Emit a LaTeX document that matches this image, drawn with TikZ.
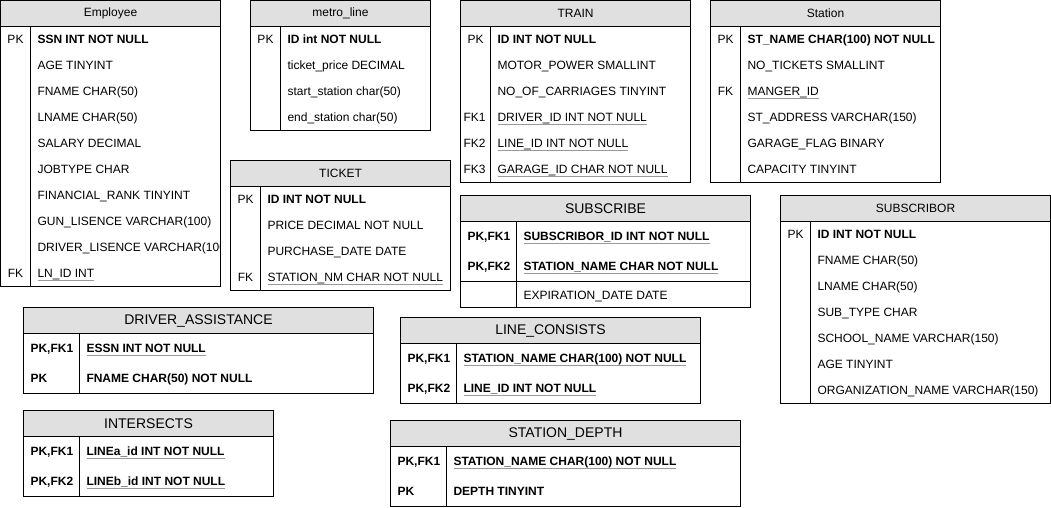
\documentclass[tikz,border=0pt]{standalone}
\usepackage{fontspec}
\setmainfont{Liberation Sans}
\definecolor{hdrgray}{HTML}{E0E0E0}
\definecolor{ulgray}{HTML}{999999}
\newcommand\fsz[1]{\fontsize{#1}{#1}\selectfont}
\newcommand\ulnode[1]{\draw[ulline] ([yshift=-2.5pt]#1.base west) -- ([yshift=-2.5pt]#1.base east);}
% #1 name, #2 x, #3 y, #4 width, #5 height, #6 divider offset, #7 header height, #8 header style, #9 title
\newcommand\mktable[9]{%
  \node[tblbox, minimum width=#4, minimum height=#5] (#1) at (#2,#3) {};
  \node[#8, minimum width=#4, minimum height=#7] (#1-h) at (#2,#3) {#9};
  \draw[sepline] ([xshift=#6]#1-h.south west) -- ([xshift=#6]#1.south west);
}
\tikzset{
  tblbox/.style={draw=black, line width=1pt, fill=white, rectangle, anchor=north west, inner sep=0pt, outer sep=0pt},
  smallhdr/.style={draw=black, line width=1pt, fill=hdrgray, rectangle, anchor=north west, inner sep=0pt, outer sep=0pt, font=\fsz{12}},
  bighdr/.style={smallhdr, font=\fsz{14}},
  fld/.style={anchor=base west, inner sep=0pt, outer sep=0pt, font=\fsz{12}},
  bfld/.style={fld, font=\bfseries\fsz{12}},
  keyc/.style={anchor=base, inner sep=0pt, outer sep=0pt, font=\fsz{12}},
  bkey/.style={anchor=base west, inner sep=0pt, outer sep=0pt, font=\bfseries\fsz{12}},
  ulline/.style={draw=ulgray, line width=0.8pt},
  sepline/.style={draw=black, line width=1pt}
}
\begin{document}
\begin{tikzpicture}[x=1pt,y=-1pt]
\useasboundingbox (-0.5,-0.5) rectangle (1050.5,506.5);

% ---------------- Employee ----------------
\mktable{emp}{0}{0}{220}{286}{30}{26}{smallhdr}{Employee}
\node[keyc] (empk0) at (15,43) {PK};
\node[bfld] (emp0) at (37,43) {SSN INT NOT NULL};
\node[fld] (emp1) at (37,69) {AGE TINYINT};
\node[fld] (emp2) at (37,95) {FNAME CHAR(50)};
\node[fld] (emp3) at (37,121) {LNAME CHAR(50)};
\node[fld] (emp4) at (37,147) {SALARY DECIMAL};
\node[fld] (emp5) at (37,173) {JOBTYPE CHAR};
\node[fld] (emp6) at (37,199) {FINANCIAL\_RANK TINYINT};
\node[fld] (emp7) at (37,225) {GUN\_LISENCE VARCHAR(100)};
\begin{scope}
  \clip (31,234) rectangle (218.5,260);
  \node[fld] (emp8) at (37,251) {DRIVER\_LISENCE VARCHAR(100)};
\end{scope}
\node[keyc] (empk9) at (15,277) {FK};
\node[fld] (emp9) at (37,277) {LN\_ID INT};
\ulnode{emp9}

% ---------------- metro_line ----------------
\mktable{ml}{250}{0}{180}{130}{30}{26}{smallhdr}{metro\_line}
\node[keyc] (mlk0) at (265,43) {PK};
\node[bfld] (ml0) at (287,43) {ID int NOT NULL};
\node[fld] (ml1) at (287,69) {ticket\_price DECIMAL};
\node[fld] (ml2) at (287,95) {start\_station char(50)};
\node[fld] (ml3) at (287,121) {end\_station char(50)};

% ---------------- TRAIN ----------------
\mktable{tr}{460}{0}{230}{182}{30}{26}{smallhdr}{TRAIN}
\node[keyc] (trk0) at (475,43) {PK};
\node[bfld] (tr0) at (497,43) {ID INT NOT NULL};
\node[fld] (tr1) at (497,69) {MOTOR\_POWER SMALLINT};
\node[fld] (tr2) at (497,95) {NO\_OF\_CARRIAGES TINYINT};
\begin{scope}
  \clip (461,105) rectangle (486.5,181);
  \node[fld] (trk3) at (463,121) {FK1};
  \node[fld] (trk4) at (463,147) {FK2};
  \node[fld] (trk5) at (463,173) {FK3};
\end{scope}
\node[fld] (tr3) at (497,121) {DRIVER\_ID INT NOT NULL};
\node[fld] (tr4) at (497,147) {LINE\_ID INT NOT NULL};
\node[fld] (tr5) at (497,173) {GARAGE\_ID CHAR NOT NULL};
\ulnode{tr3}\ulnode{tr4}\ulnode{tr5}

% ---------------- Station ----------------
\mktable{st}{710}{0}{230}{182}{30}{26}{smallhdr}{Station}
\node[keyc] (stk0) at (725,43) {PK};
\node[bfld] (st0) at (747,43) {ST\_NAME CHAR(100) NOT NULL};
\node[fld] (st1) at (747,69) {NO\_TICKETS SMALLINT};
\node[keyc] (stk2) at (725,95) {FK};
\node[fld] (st2) at (747,95) {MANGER\_ID};
\ulnode{st2}
\node[fld] (st3) at (747,121) {ST\_ADDRESS VARCHAR(150)};
\node[fld] (st4) at (747,147) {GARAGE\_FLAG BINARY};
\node[fld] (st5) at (747,173) {CAPACITY TINYINT};

% ---------------- TICKET ----------------
\mktable{tk}{230}{160}{220}{130}{30}{26}{smallhdr}{TICKET}
\node[keyc] (tkk0) at (245,203) {PK};
\node[bfld] (tk0) at (267,203) {ID INT NOT NULL};
\node[fld] (tk1) at (267,229) {PRICE DECIMAL NOT NULL};
\node[fld] (tk2) at (267,255) {PURCHASE\_DATE DATE};
\node[keyc] (tkk3) at (245,281) {FK};
\node[fld] (tk3) at (267,281) {STATION\_NM CHAR NOT NULL};
\ulnode{tk3}

% ---------------- SUBSCRIBE ----------------
\mktable{sb}{460}{195}{290}{112}{56}{26}{bighdr}{SUBSCRIBE}
\draw[sepline] (460,281) -- (750,281);
\node[bkey] (sbk0) at (467,240) {PK,FK1};
\node[bfld] (sb0) at (523,240) {SUBSCRIBOR\_ID INT NOT NULL\hspace{3.3pt}};
\ulnode{sb0}
\node[bkey] (sbk1) at (467,270) {PK,FK2};
\node[bfld] (sb1) at (523,270) {STATION\_NAME CHAR NOT NULL\hspace{3.3pt}};
\ulnode{sb1}
\node[fld] (sb2) at (523,299) {EXPIRATION\_DATE DATE};

% ---------------- SUBSCRIBOR ----------------
\mktable{sr}{780}{195}{270}{208}{30}{26}{smallhdr}{SUBSCRIBOR}
\node[keyc] (srk0) at (795,238) {PK};
\node[bfld] (sr0) at (817,238) {ID INT NOT NULL};
\node[fld] (sr1) at (817,264) {FNAME CHAR(50)};
\node[fld] (sr2) at (817,290) {LNAME CHAR(50)};
\node[fld] (sr3) at (817,316) {SUB\_TYPE CHAR};
\node[fld] (sr4) at (817,342) {SCHOOL\_NAME VARCHAR(150)};
\node[fld] (sr5) at (817,368) {AGE TINYINT};
\node[fld] (sr6) at (817,394) {ORGANIZATION\_NAME VARCHAR(150)};

% ---------------- DRIVER_ASSISTANCE ----------------
\mktable{da}{23}{307}{350}{86}{56}{26}{bighdr}{DRIVER\_ASSISTANCE}
\node[bkey] (dak0) at (30,352) {PK,FK1};
\node[bfld] (da0) at (86,352) {ESSN INT NOT NULL\hspace{3.3pt}};
\ulnode{da0}
\node[bkey] (dak1) at (30,382) {PK};
\node[bfld] (da1) at (86,382) {FNAME CHAR(50) NOT NULL};

% ---------------- INTERSECTS ----------------
\mktable{is}{23}{410}{250}{86}{56}{26}{bighdr}{INTERSECTS}
\node[bkey] (isk0) at (30,455) {PK,FK1};
\node[bfld] (is0) at (86,455) {LINEa\_id INT NOT NULL};
\ulnode{is0}
\node[bkey] (isk1) at (30,485) {PK,FK2};
\node[bfld] (is1) at (86,485) {LINEb\_id INT NOT NULL\hspace{3.3pt}};
\ulnode{is1}

% ---------------- LINE_CONSISTS ----------------
\mktable{lc}{400}{317}{300}{86}{56}{26}{bighdr}{LINE\_CONSISTS}
\node[bkey] (lck0) at (407,362) {PK,FK1};
\node[bfld] (lc0) at (463,362) {STATION\_NAME CHAR(100) NOT NULL\hspace{3.3pt}};
\ulnode{lc0}
\node[bkey] (lck1) at (407,392) {PK,FK2};
\node[bfld] (lc1) at (463,392) {LINE\_ID INT NOT NULL};
\ulnode{lc1}

% ---------------- STATION_DEPTH ----------------
\mktable{sd}{390}{420}{350}{86}{56}{26}{bighdr}{STATION\_DEPTH}
\node[bkey] (sdk0) at (397,465) {PK,FK1};
\node[bfld] (sd0) at (453,465) {STATION\_NAME CHAR(100) NOT NULL};
\ulnode{sd0}
\node[bkey] (sdk1) at (397,495) {PK};
\node[bfld] (sd1) at (453,495) {DEPTH TINYINT};
\end{tikzpicture}
\end{document}
